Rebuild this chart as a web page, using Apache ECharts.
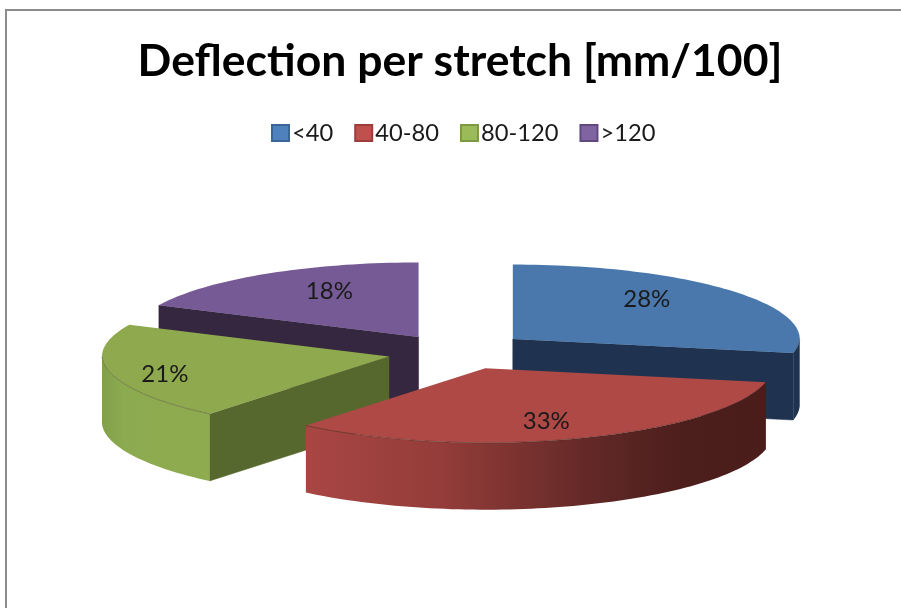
<!DOCTYPE html>
<html>
<head>
<meta charset="utf-8">
<title>Deflection per stretch</title>
<script src="https://cdn.jsdelivr.net/npm/echarts@6/dist/echarts.min.js"></script>
<style>
  html, body { margin: 0; padding: 0; background: #fff; }
  #chart { width: 901px; height: 608px; }
</style>
</head>
<body>
<div id="chart"></div>
<script>
// Share of stretches in each deflection band, percent
const categories = ['<40', '40-80', '80-120', '>120'];
const shares = [28, 33, 21, 18];

// Colours per band
const legendColors = ['#4f81bd', '#c0504d', '#9bbb59', '#8064a2'];
const legendBorders = ['#3a6596', '#9b3d3a', '#7d9a42', '#61497f'];
const topColors = ['#4a78ac', '#ae4946', '#8fa94f', '#755a95'];
const wallColors = ['#1f3350', '#4c1e1c', '#57682f', '#35273f'];
const rimStops = [
  [[0, '#1f3350'], [0.8, '#1f3350'], [1, '#2c4c72']],
  [[0, '#a94644'], [0.3, '#933c39'], [0.65, '#5e2725'], [0.82, '#4c1e1c'], [1, '#4a1d1b']],
  [[0, '#81a04a'], [0.2, '#8caa4f'], [1, '#8fab50']],
  [[0, '#35273f'], [1, '#35273f']]
];
// Painter's order: back slices first
const paintOrder = [2, 4, 3, 1];
// Label placement as fractions of the slice radius along its middle direction
const labelReach = [[0.606, 0.85], [0.627, 0.75], [0.80, 1.05], [0.58, 0.74]];
// Small per-slice corrections of the exploded position
const apexNudge = [[-0.5, -1.5], [3, 0], [1, 1], [-1, 0]];

// Oblique pie layout; frontFlatten narrows the near half a little, as perspective does
const pie = { cx: 458, cy: 351.7, rx: 287, ry: 74.5, depth: 67, explodeX: 0.25, explodeY: 0.235, frontFlatten: 0.025 };
const total = shares.reduce((a, b) => a + b, 0);
const rad = d => d * Math.PI / 180;

function sliceAngles(index) {
  const before = shares.slice(0, index).reduce((a, b) => a + b, 0);
  return [before / total * 360, (before + shares[index]) / total * 360];
}

function onRim(apex, deg, drop) {
  const c = Math.cos(rad(deg));
  const rx = pie.rx * (1 - pie.frontFlatten * Math.max(0, -c));
  return [apex[0] + rx * Math.sin(rad(deg)), apex[1] - pie.ry * c + (drop || 0)];
}

function arcPoints(apex, from, to, drop) {
  const pts = [];
  const steps = Math.max(2, Math.ceil((to - from) / 1.5));
  for (let i = 0; i <= steps; i++) pts.push(onRim(apex, from + (to - from) * i / steps, drop));
  return pts;
}

function wall(apex, deg, fill) {
  const p = onRim(apex, deg);
  return {
    type: 'polygon',
    shape: { points: [apex, p, [p[0], p[1] + pie.depth], [apex[0], apex[1] + pie.depth]] },
    style: { fill: fill, stroke: fill, lineWidth: 0.5 }
  };
}

function renderSlice(index) {
  const [a, b] = sliceAngles(index);
  const mid = (a + b) / 2;
  const value = shares[index];
  const apex = [
    pie.cx + pie.explodeX * pie.rx * Math.sin(rad(mid)) + apexNudge[index][0],
    pie.cy - pie.explodeY * pie.ry * Math.cos(rad(mid)) + apexNudge[index][1]
  ];
  const children = [];

  // Cut faces that turn towards the viewer
  if (Math.sin(rad(a)) < -1e-6) children.push(wall(apex, a, wallColors[index]));
  if (Math.sin(rad(b)) > 1e-6) children.push(wall(apex, b, wallColors[index]));

  // Outer rim, front half only
  const rimFrom = Math.max(a, 90);
  const rimTo = Math.min(b, 270);
  if (rimTo > rimFrom) {
    const upper = arcPoints(apex, rimFrom, rimTo, 0);
    const lower = arcPoints(apex, rimFrom, rimTo, pie.depth).reverse();
    const stops = rimStops[index].map(s => ({ offset: s[0], color: s[1] }));
    children.push({
      type: 'polygon',
      shape: { points: upper.concat(lower) },
      style: { fill: new echarts.graphic.LinearGradient(0, 0, 1, 0, stops) }
    });
  }

  // Top face
  children.push({
    type: 'polygon',
    shape: { points: [apex].concat(arcPoints(apex, a, b, 0)) },
    style: { fill: topColors[index] }
  });
  if (rimTo > rimFrom) {
    children.push({
      type: 'polyline',
      shape: { points: arcPoints(apex, rimFrom, rimTo, 0) },
      style: { stroke: 'rgba(40,30,20,0.45)', lineWidth: 0.8, fill: 'none' }
    });
  }

  // Percentage label
  const reach = labelReach[index];
  children.push({
    type: 'text',
    style: {
      text: value + '%',
      x: apex[0] + reach[0] * pie.rx * Math.sin(rad(mid)),
      y: apex[1] - reach[1] * pie.ry * Math.cos(rad(mid)) + 1,
      fill: '#1a1a1a',
      font: '24px Lato',
      textAlign: 'center',
      textVerticalAlign: 'middle'
    }
  });
  return { type: 'group', children: children };
}

const chart = echarts.init(document.getElementById('chart'), null, { renderer: 'canvas' });
chart.setOption({
  animation: false,
  backgroundColor: '#ffffff',
  title: {
    text: 'Deflection per stretch [mm/100]',
    left: 455,
    top: 34,
    textAlign: 'center',
    textStyle: { fontFamily: 'Lato', fontWeight: 'bold', fontSize: 44.5, color: '#000000' }
  },
  legend: {
    data: categories,
    left: 266,
    top: 116,
    icon: 'rect',
    itemWidth: 17,
    itemHeight: 16,
    itemGap: 21,
    textStyle: { fontFamily: 'Lato', fontSize: 23.7, color: '#1a1a1a', padding: [0, 0, 0, -2] }
  },
  graphic: [{
    type: 'rect',
    silent: true,
    shape: { x: 6, y: 10, width: 1200, height: 900 },
    style: { fill: 'none', stroke: '#8c8c8c', lineWidth: 2 }
  }],
  series: categories.map((name, i) => ({
    type: 'custom',
    name: name,
    coordinateSystem: 'none',
    z: paintOrder[i],
    silent: true,
    itemStyle: { color: legendColors[i], borderColor: legendBorders[i], borderWidth: 1 },
    data: [[shares[i]]],
    renderItem: () => renderSlice(i)
  }))
});
</script>
</body>
</html>
